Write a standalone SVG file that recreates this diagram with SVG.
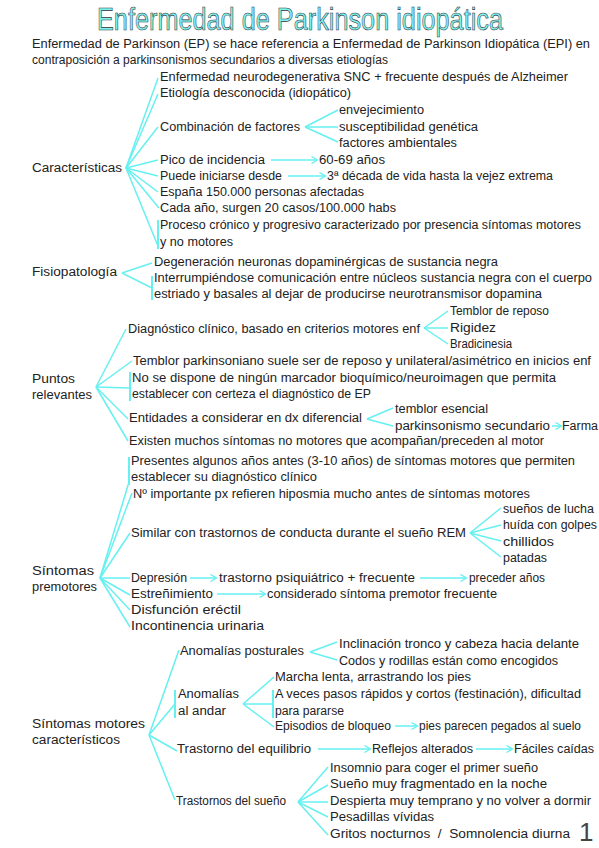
<svg xmlns="http://www.w3.org/2000/svg" width="599" height="848" viewBox="0 0 599 848">
<defs>
<style>
text{font-family:"Liberation Sans","DejaVu Sans",sans-serif;font-size:12px;fill:#222;white-space:pre}
.title{font-size:31px;fill:#7ef3f3;stroke:#333;stroke-width:0.6}
.pg{font-size:26px;fill:#444}
.c line{stroke:#66f0f0;stroke-width:1.5;fill:none}
.c .bar{stroke-width:2}
</style>
<marker id="ah" markerWidth="8" markerHeight="8" refX="6" refY="4" orient="auto" markerUnits="userSpaceOnUse">
<path d="M0.5,0.5 L6.5,4 L0.5,7.5" fill="none" stroke="#66f0f0" stroke-width="1.3"/>
</marker>
</defs>
<rect width="599" height="848" fill="#fff"/>

<g id="title"><text class="title" x="97" y="30" textLength="406" lengthAdjust="spacingAndGlyphs">Enfermedad de Parkinson idiopática</text></g>
<g id="intro">
<text x="32" y="48" textLength="558" lengthAdjust="spacingAndGlyphs">Enfermedad de Parkinson (EP) se hace referencia a Enfermedad de Parkinson Idiopática (EPI) en</text>
<text x="32" y="64" textLength="356" lengthAdjust="spacingAndGlyphs">contraposición a parkinsonismos secundarios a diversas etiologías</text>
</g>

<g class="c" id="connectors">
<line x1="126" y1="168" x2="158" y2="78"/>
<line x1="126" y1="168" x2="158" y2="94"/>
<line x1="126" y1="168" x2="158" y2="127"/>
<line x1="126" y1="168" x2="158" y2="160"/>
<line x1="126" y1="168" x2="158" y2="176"/>
<line x1="126" y1="168" x2="158" y2="192"/>
<line x1="126" y1="168" x2="159" y2="208"/>
<line x1="126" y1="168" x2="158" y2="246"/>
<line class="bar" x1="158" y1="220" x2="158" y2="249"/>
<line x1="305" y1="127" x2="338" y2="110"/>
<line x1="305" y1="127" x2="338" y2="127"/>
<line x1="305" y1="127" x2="338" y2="142"/>
<line x1="271" y1="160" x2="317" y2="160" marker-end="url(#ah)"/>
<line x1="288" y1="176" x2="325" y2="176" marker-end="url(#ah)"/>
<line x1="122" y1="273" x2="152" y2="263"/>
<line x1="122" y1="273" x2="152" y2="288"/>
<line class="bar" x1="152" y1="276" x2="152" y2="300"/>
<line x1="96" y1="387" x2="126" y2="329"/>
<line x1="96" y1="387" x2="132" y2="361"/>
<line x1="96" y1="387" x2="130" y2="388"/>
<line class="bar" x1="130" y1="372" x2="130" y2="401"/>
<line x1="96" y1="387" x2="128" y2="419"/>
<line x1="96" y1="387" x2="128" y2="441"/>
<line x1="424" y1="328" x2="448" y2="311"/>
<line x1="424" y1="328" x2="448" y2="328"/>
<line x1="424" y1="328" x2="448" y2="344"/>
<line x1="367" y1="419" x2="393" y2="408"/>
<line x1="367" y1="419" x2="393" y2="426"/>
<line x1="552" y1="426" x2="561" y2="426" marker-end="url(#ah)"/>
<line x1="100" y1="578" x2="129" y2="482"/>
<line class="bar" x1="129" y1="457" x2="129" y2="485"/>
<line x1="100" y1="578" x2="132" y2="493"/>
<line x1="100" y1="578" x2="130" y2="533"/>
<line x1="100" y1="578" x2="130" y2="578"/>
<line x1="100" y1="578" x2="130" y2="595"/>
<line x1="100" y1="578" x2="130" y2="610"/>
<line x1="100" y1="578" x2="130" y2="627"/>
<line x1="470" y1="533" x2="501" y2="508"/>
<line x1="470" y1="533" x2="501" y2="525"/>
<line x1="470" y1="533" x2="501" y2="541"/>
<line x1="470" y1="533" x2="501" y2="557"/>
<line x1="190" y1="578" x2="216" y2="578" marker-end="url(#ah)"/>
<line x1="420" y1="578" x2="466" y2="578" marker-end="url(#ah)"/>
<line x1="217" y1="594" x2="265" y2="594" marker-end="url(#ah)"/>
<line x1="149" y1="735" x2="179" y2="650"/>
<line x1="149" y1="735" x2="175" y2="704"/>
<line class="bar" x1="175" y1="690" x2="175" y2="718"/>
<line x1="149" y1="735" x2="177" y2="751"/>
<line x1="149" y1="735" x2="175" y2="800"/>
<line x1="310" y1="652" x2="337" y2="642"/>
<line x1="310" y1="652" x2="337" y2="660"/>
<line x1="243" y1="704" x2="274" y2="677"/>
<line x1="243" y1="704" x2="273" y2="704"/>
<line class="bar" x1="273" y1="690" x2="273" y2="718"/>
<line x1="243" y1="704" x2="274" y2="727"/>
<line x1="395" y1="726" x2="417" y2="726" marker-end="url(#ah)"/>
<line x1="318" y1="749" x2="370" y2="749" marker-end="url(#ah)"/>
<line x1="476" y1="749" x2="512" y2="749" marker-end="url(#ah)"/>
<line x1="298" y1="802" x2="328" y2="767"/>
<line x1="298" y1="802" x2="328" y2="785"/>
<line x1="298" y1="802" x2="328" y2="802"/>
<line x1="298" y1="802" x2="328" y2="817"/>
<line x1="298" y1="802" x2="328" y2="835"/>
</g>

<g id="caracteristicas"><text x="32" y="172" textLength="90" lengthAdjust="spacingAndGlyphs">Características</text></g>
<g id="c1"><text x="160" y="81" textLength="408" lengthAdjust="spacingAndGlyphs">Enfermedad neurodegenerativa SNC + frecuente después de Alzheimer</text></g>
<g id="c2"><text x="160" y="97" textLength="191" lengthAdjust="spacingAndGlyphs">Etiología desconocida (idiopático)</text></g>
<g id="c3"><text x="160" y="131" textLength="140" lengthAdjust="spacingAndGlyphs">Combinación de factores</text></g>
<g id="c3a"><text x="339" y="114" textLength="85" lengthAdjust="spacingAndGlyphs">envejecimiento</text></g>
<g id="c3b"><text x="339" y="131" textLength="139" lengthAdjust="spacingAndGlyphs">susceptibilidad genética</text></g>
<g id="c3c"><text x="339" y="147" textLength="118" lengthAdjust="spacingAndGlyphs">factores ambientales</text></g>
<g id="c4"><text x="160" y="164" textLength="105" lengthAdjust="spacingAndGlyphs">Pico de incidencia</text></g>
<g id="c4a"><text x="319" y="164" textLength="66" lengthAdjust="spacingAndGlyphs">60-69 años</text></g>
<g id="c5"><text x="160" y="180" textLength="122" lengthAdjust="spacingAndGlyphs">Puede iniciarse desde</text></g>
<g id="c5a"><text x="327" y="180" textLength="226" lengthAdjust="spacingAndGlyphs">3ª década de vida hasta la vejez extrema</text></g>
<g id="c6"><text x="160" y="196" textLength="204" lengthAdjust="spacingAndGlyphs">España 150.000 personas afectadas</text></g>
<g id="c7"><text x="160" y="212" textLength="236" lengthAdjust="spacingAndGlyphs">Cada año, surgen 20 casos/100.000 habs</text></g>
<g id="c8"><text x="160" y="229" textLength="421" lengthAdjust="spacingAndGlyphs">Proceso crónico y progresivo caracterizado por presencia síntomas motores</text><text x="160" y="246" textLength="73" lengthAdjust="spacingAndGlyphs">y no motores</text></g>

<g id="fisiopatologia"><text x="32" y="276" textLength="85" lengthAdjust="spacingAndGlyphs">Fisiopatología</text></g>
<g id="f1"><text x="154" y="266" textLength="344" lengthAdjust="spacingAndGlyphs">Degeneración neuronas dopaminérgicas de sustancia negra</text></g>
<g id="f2"><text x="154" y="282" textLength="438" lengthAdjust="spacingAndGlyphs">Interrumpiéndose comunicación entre núcleos sustancia negra con el cuerpo</text><text x="154" y="298" textLength="388" lengthAdjust="spacingAndGlyphs">estriado y basales al dejar de producirse neurotransmisor dopamina</text></g>

<g id="puntos"><text x="32" y="383" textLength="43" lengthAdjust="spacingAndGlyphs">Puntos</text><text x="32" y="399" textLength="60" lengthAdjust="spacingAndGlyphs">relevantes</text></g>
<g id="p1"><text x="128" y="333" textLength="292" lengthAdjust="spacingAndGlyphs">Diagnóstico clínico, basado en criterios motores enf</text></g>
<g id="p1a"><text x="450" y="315" textLength="99" lengthAdjust="spacingAndGlyphs">Temblor de reposo</text></g>
<g id="p1b"><text x="450" y="332" textLength="46" lengthAdjust="spacingAndGlyphs">Rigidez</text></g>
<g id="p1c"><text x="450" y="348" textLength="62" lengthAdjust="spacingAndGlyphs">Bradicinesia</text></g>
<g id="p2"><text x="133" y="365" textLength="458" lengthAdjust="spacingAndGlyphs">Temblor parkinsoniano suele ser de reposo y unilateral/asimétrico en inicios enf</text></g>
<g id="p3"><text x="132" y="382" textLength="424" lengthAdjust="spacingAndGlyphs">No se dispone de ningún marcador bioquímico/neuroimagen que permita</text><text x="132" y="398" textLength="239" lengthAdjust="spacingAndGlyphs">establecer con certeza el diagnóstico de EP</text></g>
<g id="p4"><text x="129" y="422" textLength="233" lengthAdjust="spacingAndGlyphs">Entidades a considerar en dx diferencial</text></g>
<g id="p4a"><text x="395" y="413" textLength="93" lengthAdjust="spacingAndGlyphs">temblor esencial</text></g>
<g id="p4b"><text x="395" y="430" textLength="155" lengthAdjust="spacingAndGlyphs">parkinsonismo secundario</text></g>
<g id="p4c"><text x="562" y="430" textLength="36" lengthAdjust="spacingAndGlyphs">Farma</text></g>
<g id="p5"><text x="129" y="445" textLength="415" lengthAdjust="spacingAndGlyphs">Existen muchos síntomas no motores que acompañan/preceden al motor</text></g>

<g id="premotores"><text x="32" y="575" textLength="62" lengthAdjust="spacingAndGlyphs">Síntomas</text><text x="32" y="591" textLength="65" lengthAdjust="spacingAndGlyphs">premotores</text></g>
<g id="s1"><text x="131" y="465" textLength="444" lengthAdjust="spacingAndGlyphs">Presentes algunos años antes (3-10 años) de síntomas motores que permiten</text><text x="131" y="481" textLength="186" lengthAdjust="spacingAndGlyphs">establecer su diagnóstico clínico</text></g>
<g id="s2"><text x="133" y="498" textLength="397" lengthAdjust="spacingAndGlyphs">Nº importante px refieren hiposmia mucho antes de síntomas motores</text></g>
<g id="s3"><text x="131" y="537" textLength="335" lengthAdjust="spacingAndGlyphs">Similar con trastornos de conducta durante el sueño REM</text></g>
<g id="s3a"><text x="503" y="513" textLength="91" lengthAdjust="spacingAndGlyphs">sueños de lucha</text></g>
<g id="s3b"><text x="503" y="529" textLength="94" lengthAdjust="spacingAndGlyphs">huída con golpes</text></g>
<g id="s3c"><text x="503" y="546" textLength="51" lengthAdjust="spacingAndGlyphs">chillidos</text></g>
<g id="s3d"><text x="503" y="562" textLength="44" lengthAdjust="spacingAndGlyphs">patadas</text></g>
<g id="s4"><text x="131" y="582" textLength="56" lengthAdjust="spacingAndGlyphs">Depresión</text></g>
<g id="s4a"><text x="219" y="582" textLength="196" lengthAdjust="spacingAndGlyphs">trastorno psiquiátrico + frecuente</text></g>
<g id="s4b"><text x="469" y="582" textLength="76" lengthAdjust="spacingAndGlyphs">preceder años</text></g>
<g id="s5"><text x="131" y="598" textLength="82" lengthAdjust="spacingAndGlyphs">Estreñimiento</text></g>
<g id="s5a"><text x="267" y="598" textLength="230" lengthAdjust="spacingAndGlyphs">considerado síntoma premotor frecuente</text></g>
<g id="s6"><text x="131" y="614" textLength="110" lengthAdjust="spacingAndGlyphs">Disfunción eréctil</text></g>
<g id="s7"><text x="131" y="630" textLength="133" lengthAdjust="spacingAndGlyphs">Incontinencia urinaria</text></g>

<g id="motores"><text x="32" y="728" textLength="113" lengthAdjust="spacingAndGlyphs">Síntomas motores</text><text x="32" y="744" textLength="88" lengthAdjust="spacingAndGlyphs">característicos</text></g>
<g id="m1"><text x="180" y="655" textLength="124" lengthAdjust="spacingAndGlyphs">Anomalías posturales</text></g>
<g id="m1a"><text x="339" y="648" textLength="240" lengthAdjust="spacingAndGlyphs">Inclinación tronco y cabeza hacia delante</text></g>
<g id="m1b"><text x="339" y="665" textLength="219" lengthAdjust="spacingAndGlyphs">Codos y rodillas están como encogidos</text></g>
<g id="m2"><text x="178" y="698" textLength="61" lengthAdjust="spacingAndGlyphs">Anomalías</text><text x="178" y="715" textLength="48" lengthAdjust="spacingAndGlyphs">al andar</text></g>
<g id="m2a"><text x="275" y="681" textLength="196" lengthAdjust="spacingAndGlyphs">Marcha lenta, arrastrando los pies</text></g>
<g id="m2b"><text x="275" y="698" textLength="306" lengthAdjust="spacingAndGlyphs">A veces pasos rápidos y cortos (festinación), dificultad</text><text x="275" y="715" textLength="69" lengthAdjust="spacingAndGlyphs">para pararse</text></g>
<g id="m2c"><text x="275" y="730" textLength="116" lengthAdjust="spacingAndGlyphs">Episodios de bloqueo</text></g>
<g id="m2d"><text x="419" y="730" textLength="162" lengthAdjust="spacingAndGlyphs">pies parecen pegados al suelo</text></g>
<g id="m3"><text x="177" y="753" textLength="134" lengthAdjust="spacingAndGlyphs">Trastorno del equilibrio</text></g>
<g id="m3a"><text x="372" y="753" textLength="101" lengthAdjust="spacingAndGlyphs">Reflejos alterados</text></g>
<g id="m3b"><text x="514" y="753" textLength="80" lengthAdjust="spacingAndGlyphs">Fáciles caídas</text></g>
<g id="m4"><text x="176" y="805" textLength="110" lengthAdjust="spacingAndGlyphs">Trastornos del sueño</text></g>
<g id="m4a"><text x="330" y="772" textLength="208" lengthAdjust="spacingAndGlyphs">Insomnio para coger el primer sueño</text></g>
<g id="m4b"><text x="330" y="788" textLength="217" lengthAdjust="spacingAndGlyphs">Sueño muy fragmentado en la noche</text></g>
<g id="m4c"><text x="330" y="805" textLength="261" lengthAdjust="spacingAndGlyphs">Despierta muy temprano y no volver a dormir</text></g>
<g id="m4d"><text x="330" y="821" textLength="104" lengthAdjust="spacingAndGlyphs">Pesadillas vívidas</text></g>
<g id="m4e"><text x="330" y="838" textLength="240" lengthAdjust="spacingAndGlyphs">Gritos nocturnos  /  Somnolencia diurna</text></g>
<g id="page"><text class="pg" x="579" y="841">1</text></g>
</svg>
